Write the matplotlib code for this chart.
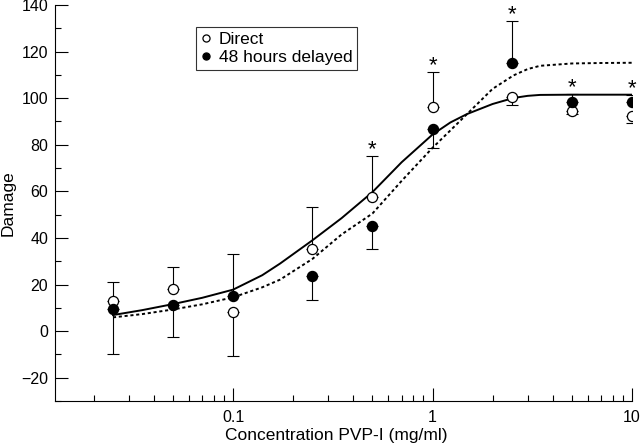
import numpy as np
import matplotlib
matplotlib.use("Agg")
import matplotlib.pyplot as plt
from matplotlib.ticker import LogLocator, FixedLocator, NullFormatter

plt.rcParams['font.family'] = ['Liberation Sans', 'DejaVu Sans']

# dados
conc = [0.025, 0.05, 0.1, 0.25, 0.5, 1, 2.5, 5, 10]
direct = [12.8, 18.0, 8.1, 35.1, 57.5, 96.0, 100.6, 94.6, 92.5]
delayed = [9.6, 11.4, 15.0, 23.8, 45.0, 86.8, 115.1, 98.2, 98.2]
direct_err = [8.5, 9.4, 18.8, 18.1, 17.5, 15.2, 3.5, 1.4, 3.0]
delayed_err = [19.3, 14.0, 18.0, 10.5, 9.9, 8.0, 17.9, 3.5, 3.0]
signif = [False, False, False, False, True, True, True, True, True]

# curvas ajustadas (pontos lidos)
fit_x = [0.025, 0.035, 0.05, 0.07, 0.1, 0.14, 0.172, 0.25, 0.35, 0.5, 0.7,
         1.0, 1.23, 1.49, 2.0, 2.55, 3.0, 3.46, 5.0, 7.0, 10.0]
fit_direct = [6.9, 9.0, 11.6, 14.3, 17.8, 24.0, 29.0, 39.0, 48.5, 59.7, 72.5,
              84.4, 89.6, 93.2, 97.5, 100.1, 101.0, 101.4, 101.5, 101.5, 101.5]
fit_delayed = [5.9, 7.3, 9.3, 11.5, 14.5, 18.8, 22.1, 31.0, 41.5, 50.5, 64.5,
               78.7, 86.2, 93.2, 104.0, 109.8, 112.5, 113.9, 114.9, 115.1, 115.2]

fig = plt.figure(figsize=(6.4, 4.47), dpi=100)
ax = fig.add_axes([55/640, 1 - 401/447, 577/640, 396/447])

ax.plot(fit_x, fit_direct, color='black', lw=1.4, zorder=2)
ax.plot(fit_x, fit_delayed, color='black', lw=1.4, linestyle=(0, (1.6, 1.4)), zorder=2)

# barras de erro de um lado so (para fora)
for i in range(len(conc)):
    if direct[i] >= delayed[i]:
        d_err = [[0], [direct_err[i]]]
        l_err = [[delayed_err[i]], [0]]
        top = direct[i] + direct_err[i]
    else:
        d_err = [[direct_err[i]], [0]]
        l_err = [[0], [delayed_err[i]]]
        top = delayed[i] + delayed_err[i]
    ax.errorbar([conc[i]], [direct[i]], yerr=d_err, fmt='none', ecolor='black',
                elinewidth=0.8, capsize=4.5, capthick=0.8, zorder=3)
    ax.errorbar([conc[i]], [delayed[i]], yerr=l_err, fmt='none', ecolor='black',
                elinewidth=0.8, capsize=4.5, capthick=0.8, zorder=3)
    if signif[i]:
        ax.annotate('*', (conc[i], top), xytext=(0, 1.0), textcoords='offset points',
                    ha='center', va='baseline', fontsize=16)

ax.plot(conc, direct, 'o', ms=7.3, mfc='white', mec='black', mew=0.9, zorder=4,
        label='Direct')
ax.plot(conc, delayed, 'o', ms=7.3, mfc='black', mec='black', mew=0.9, zorder=5,
        label='48 hours delayed')

ax.set_xscale('log')
ax.set_xlim(0.0128, 10)
ax.set_ylim(-30, 140)
ax.spines['top'].set_visible(False)
ax.spines['right'].set_visible(False)
for s in ['left', 'bottom']:
    ax.spines[s].set_linewidth(0.8)

ax.xaxis.set_major_locator(FixedLocator([0.1, 1, 10]))
ax.set_xticklabels(['0.1', '1', '10'])
ax.xaxis.set_minor_locator(LogLocator(base=10, subs=np.arange(2, 10)))
ax.xaxis.set_minor_formatter(NullFormatter())
ax.set_yticks(np.arange(-20, 141, 20))
ax.yaxis.set_minor_locator(FixedLocator(np.arange(-30, 141, 10)))

ax.tick_params(which='major', direction='in', length=9.2, width=0.8, labelsize=11.5)
ax.tick_params(which='minor', direction='in', length=4.5, width=0.8)
ax.tick_params(axis='x', which='major', pad=6.5)
ax.tick_params(axis='y', which='major', pad=4.8)

fig.text(336/640, 1 - 440/447, 'Concentration PVP-I (mg/ml)', ha='center', va='baseline',
         fontsize=12.5)
fig.text(1/640, 1 - 203/447, 'Damage', rotation=90, ha='left', va='center', fontsize=12.5)

leg = ax.legend(loc='upper left', bbox_to_anchor=((196 - 55)/577, (401 - 27)/396),
                borderaxespad=0, fontsize=12.5, frameon=True, fancybox=False,
                markerscale=0.7, handlelength=0.6, handletextpad=0.4,
                borderpad=0.3, labelspacing=0.15)
leg.get_frame().set_edgecolor('black')
leg.get_frame().set_linewidth(0.8)

fig.savefig('out.png', dpi=100)
